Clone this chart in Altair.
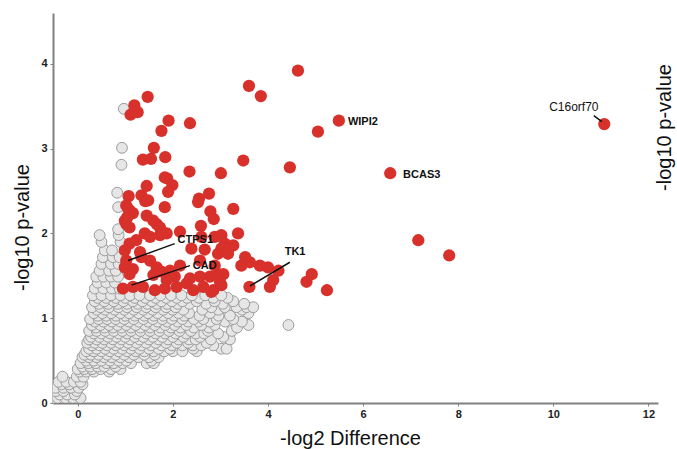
import altair as alt
import pandas as pd

# ---- significant (red) proteins: -log2 difference, -log10 p-value ----
red_x = [4.63, 3.60, 3.85, 1.47, 5.49, 5.05, 11.07, 6.57, 7.16, 7.81, 5.24, 4.92, 4.81, 4.46,
         3.48, 2.36, 1.91, 1.19, 1.26, 1.11, 1.76, 1.60, 1.54, 1.37, 1.84, 2.35, 3.01, 1.83,
         1.88, 1.45, 1.99, 1.90, 1.07, 1.34, 2.76, 2.55, 2.79, 2.86, 3.27, 1.42, 1.83, 1.02,
         1.09, 1.16, 1.45, 1.59, 0.99, 2.59, 1.04, 1.02, 1.09, 1.66, 1.73, 1.41, 1.52, 1.73,
         1.87, 2.15, 2.60, 2.88, 3.02, 3.37, 3.27, 3.09, 3.02, 2.95, 2.39, 2.67, 1.09, 1.23,
         0.99, 1.31, 1.34, 1.02, 0.99, 1.16, 1.09, 1.52, 1.66, 1.76, 1.59, 1.94, 2.15, 2.04,
         1.87, 0.95, 1.16, 1.37, 1.62, 1.83, 2.08, 2.29, 2.43, 2.64, 2.85, 3.02, 2.36, 2.57,
         2.78, 2.95, 2.88, 2.57, 3.52, 3.62, 3.83, 4.00, 4.22, 4.11, 4.04, 3.61, 3.44, 3.20,
         3.16, 2.81, 3.06, 2.99, 1.06, 1.48, 2.53]
red_y = [3.92, 3.74, 3.62, 3.61, 3.33, 3.20, 3.29, 2.71, 1.92, 1.74, 1.33, 1.52, 1.43, 2.78,
         2.86, 3.30, 3.33, 3.51, 3.43, 3.40, 3.21, 3.01, 2.88, 2.87, 2.90, 2.73, 2.71, 2.66,
         2.65, 2.56, 2.57, 2.49, 2.44, 2.45, 2.47, 2.41, 2.26, 2.17, 2.29, 2.38, 2.31, 2.33,
         2.27, 2.24, 2.21, 2.15, 2.15, 2.09, 2.19, 2.11, 2.07, 2.11, 2.07, 2.00, 1.96, 1.98,
         2.00, 2.02, 1.96, 1.96, 1.98, 2.00, 1.86, 1.88, 1.82, 1.76, 1.82, 1.81, 1.88, 1.92,
         1.80, 1.78, 1.72, 1.68, 1.60, 1.58, 1.52, 1.68, 1.60, 1.55, 1.51, 1.56, 1.62, 1.49,
         1.45, 1.35, 1.37, 1.37, 1.33, 1.35, 1.37, 1.41, 1.33, 1.37, 1.33, 1.39, 1.47, 1.49,
         1.49, 1.52, 1.62, 1.68, 1.72, 1.66, 1.62, 1.60, 1.56, 1.45, 1.37, 1.37, 1.62, 1.84,
         1.76, 1.31, 1.52, 1.43, 2.29, 2.39, 2.37]

# ---- non-significant (grey) proteins, read row by row: (-log10 p, [-log2 diff ...]) ----
gray_rows = [
    (0.02, [-0.46, -0.30, -0.14, 0.00]),
    (0.06, [-0.42, -0.26, -0.10, 0.06]),
    (0.10, [-0.38, -0.22, -0.06]),
    (0.14, [-0.46, -0.30, -0.02]),
    (0.18, [-0.47, -0.30, -0.14, 0.02]),
    (0.22, [-0.34, -0.18, 0.10]),
    (0.25, [-0.40, -0.24, -0.08, 0.06]),
    (0.31, [-0.32, -0.02, 0.12]),
    (0.37, [0.04, 0.18, 0.34, 0.66]),
    (0.40, [0.00, 0.14, 0.30, 0.48, 0.70, 0.90]),
    (0.43, [0.10, 0.26, 0.42, 0.56, 0.80]),
    (0.47, [0.06, 0.22, 0.38, 0.60, 0.76, 0.94, 1.12, 1.45, 1.60]),
    (0.50, [0.18, 0.34, 0.50, 0.68, 0.86, 1.02, 1.55]),
    (0.54, [0.10, 0.24, 0.40, 0.56, 0.72, 0.90, 1.08, 1.28, 1.50, 1.70]),
    (0.57, [0.14, 0.28, 0.44, 0.62, 0.80, 0.98, 1.18, 1.40, 1.62]),
    (0.61, [0.18, 0.34, 0.50, 0.68, 0.86, 1.04, 1.22, 1.40, 1.60, 1.82, 2.00, 2.20, 2.50]),
    (0.64, [0.24, 0.40, 0.58, 0.76, 0.94, 1.12, 1.30, 1.50, 1.70, 1.94, 2.43, 3.02, 3.13]),
    (0.68, [0.30, 0.46, 0.62, 0.80, 0.98, 1.16, 1.34, 1.54, 1.76, 1.98, 2.20, 2.42, 2.60, 2.85]),
    (0.71, [0.20, 0.36, 0.52, 0.70, 0.88, 1.06, 1.24, 1.44, 1.64, 1.86, 2.08, 2.32, 2.71]),
    (0.75, [0.24, 0.40, 0.56, 0.74, 0.92, 1.10, 1.30, 1.50, 1.70, 1.90, 2.12, 2.34, 2.48, 2.80, 3.20]),
    (0.78, [0.28, 0.46, 0.64, 0.82, 1.00, 1.20, 1.38, 1.58, 1.78, 2.00, 2.22, 2.57, 3.06]),
    (0.82, [0.34, 0.50, 0.68, 0.86, 1.04, 1.24, 1.44, 1.64, 1.84, 2.06, 2.28, 2.48, 2.66, 2.95]),
    (0.85, [0.24, 0.40, 0.58, 0.76, 0.94, 1.12, 1.32, 1.52, 1.72, 1.92, 2.14, 2.38, 2.74, 3.24]),
    (0.89, [0.38, 0.56, 0.74, 0.92, 1.12, 1.32, 1.52, 1.74, 1.96, 2.16, 2.44, 2.76, 3.35]),
    (0.92, [0.30, 0.48, 0.66, 0.84, 1.02, 1.22, 1.42, 1.62, 1.84, 2.04, 2.28, 2.60, 2.88, 3.59, 4.43]),
    (0.96, [0.36, 0.54, 0.72, 0.90, 1.08, 1.28, 1.48, 1.68, 1.88, 2.10, 2.32, 2.54, 2.78, 3.10, 3.45]),
    (0.99, [0.26, 0.44, 0.62, 0.80, 0.98, 1.18, 1.38, 1.58, 1.78, 1.98, 2.20, 2.44, 2.64, 2.92, 3.27]),
    (1.03, [0.42, 0.60, 0.80, 1.00, 1.20, 1.40, 1.60, 1.80, 2.02, 2.24, 2.56, 2.96, 3.20]),
    (1.06, [0.34, 0.52, 0.70, 0.90, 1.08, 1.28, 1.48, 1.68, 1.90, 2.12, 2.34, 2.78, 3.59]),
    (1.10, [0.40, 0.58, 0.78, 0.98, 1.18, 1.38, 1.58, 1.80, 2.00, 2.22, 2.62, 2.96, 3.45]),
    (1.13, [0.30, 0.48, 0.66, 0.86, 1.04, 1.24, 1.44, 1.64, 1.86, 2.06, 2.81, 3.09, 3.34, 3.55, 3.69]),
    (1.17, [0.44, 0.64, 0.84, 1.04, 1.26, 1.46, 1.66, 1.88, 2.10, 2.35, 2.70, 3.05, 3.50]),
    (1.20, [0.36, 0.56, 0.76, 0.96, 1.16, 1.36, 1.56, 1.76, 1.98, 2.20, 2.50, 2.88, 3.27]),
    (1.24, [0.42, 0.60, 0.80, 1.00, 1.20, 1.42, 1.64, 1.86, 2.08, 2.30, 2.55, 2.85, 3.15]),
    (1.27, [0.32, 0.50, 0.70, 0.90, 1.10, 1.30, 1.52, 1.74, 1.96, 2.18, 2.40, 2.68, 3.02]),
    (1.35, [0.36, 0.54, 0.72, 0.88]),
    (1.42, [0.42, 0.60, 0.78]),
    (1.49, [0.39, 0.54, 0.70, 0.85]),
    (1.56, [0.46, 0.66, 0.80]),
    (1.64, [0.50, 0.70, 0.86]),
    (1.72, [0.53, 0.74, 0.88]),
    (1.80, [0.57, 0.72]),
    (1.90, [0.50, 0.90]),
    (1.98, [0.46, 0.86]),
    (2.05, [0.85]),
    (2.31, [0.85]),
    (2.48, [0.83]),
    (2.81, [0.92]),
    (3.01, [0.93]),
    (3.47, [0.97]),
]

# ---- gene labels ----
lab_left_text = ["CTPS1", "CAD", "WIPI2", "BCAS3"]
lab_left_x = [2.10, 2.42, 5.68, 6.84]
lab_left_y = [1.92, 1.62, 3.32, 2.69]
lab_center_text = ["TK1"]
lab_center_x = [4.57]
lab_center_y = [1.78]
lab_right_text = ["C16orf70"]
lab_right_x = [10.95]
lab_right_y = [3.49]

# ---- leader lines ----
lead_x = [1.06, 1.13, 3.62, 10.85]
lead_y = [1.68, 1.39, 1.38, 3.39]
lead_x2 = [2.04, 2.36, 4.46, 11.02]
lead_y2 = [1.88, 1.62, 1.66, 3.32]

gx, gy = [], []
for yv, xs in gray_rows:
    for xv in xs:
        gx.append(xv)
        gy.append(yv)

gray_df = pd.DataFrame({"x": gx, "y": gy})
red_df = pd.DataFrame({"x": red_x, "y": red_y})
lead_df = pd.DataFrame({"x": lead_x, "y": lead_y, "x2": lead_x2, "y2": lead_y2})
ll_df = pd.DataFrame({"x": lab_left_x, "y": lab_left_y, "t": lab_left_text})
lc_df = pd.DataFrame({"x": lab_center_x, "y": lab_center_y, "t": lab_center_text})
lr_df = pd.DataFrame({"x": lab_right_x, "y": lab_right_y, "t": lab_right_text})

FONT = "Liberation Sans"
xscale = alt.Scale(domain=[-0.52, 12.2], nice=False, zero=False)
yscale = alt.Scale(domain=[0, 4.6], nice=False, zero=False)

xaxis = alt.Axis(
    values=[0, 2, 4, 6, 8, 10, 12], format="d", grid=False,
    domainColor="#808080", domainWidth=2, tickColor="#808080", tickSize=3, tickWidth=1,
    labelFont=FONT, labelFontWeight="bold", labelFontSize=11, labelColor="#222222",
    labelPadding=2, title="-log2 Difference", titleFont=FONT, titleFontSize=20,
    titleFontWeight="normal", titleColor="#111111", titleX=297, titleY=35,
    titleAlign="center", titleBaseline="middle",
)
yaxis_left = alt.Axis(
    values=[0, 1, 2, 3, 4], format="d", grid=False,
    domainColor="#808080", domainWidth=2, tickColor="#808080", tickSize=3, tickWidth=1,
    labelFont=FONT, labelFontWeight="bold", labelFontSize=11, labelColor="#222222",
    labelPadding=3, title="-log10 p-value", titleFont=FONT, titleFontSize=20,
    titleFontWeight="normal", titleColor="#111111", titleX=-31, titleY=214,
    titleAngle=270, titleAlign="center", titleBaseline="middle",
)
yaxis_right = alt.Axis(
    orient="right", labels=False, ticks=False, domain=False, grid=False,
    title="-log10 p-value", titleFont=FONT, titleFontSize=20,
    titleFontWeight="normal", titleColor="#111111", titleX=6, titleY=114,
    titleAngle=270, titleAlign="center", titleBaseline="middle",
)

gray = alt.Chart(gray_df).mark_circle(
    size=118, fill="#e6e6e6", stroke="#9c9c9c", strokeWidth=1, opacity=1, clip=True
).encode(
    x=alt.X("x:Q", scale=xscale, axis=xaxis),
    y=alt.Y("y:Q", scale=yscale, axis=yaxis_left),
)

red = alt.Chart(red_df).mark_circle(
    size=150, color="#d8302a", opacity=1
).encode(
    x=alt.X("x:Q", scale=xscale, axis=xaxis),
    y=alt.Y("y:Q", scale=yscale, axis=yaxis_right),
)

leads = alt.Chart(lead_df).mark_rule(color="#111111", strokeWidth=1.5).encode(
    x=alt.X("x:Q", scale=xscale, axis=xaxis),
    y=alt.Y("y:Q", scale=yscale, axis=None),
    x2="x2:Q",
    y2="y2:Q",
)

txt_left = alt.Chart(ll_df).mark_text(
    align="left", baseline="middle", font=FONT, fontSize=11, fontWeight="bold", color="#111111"
).encode(
    x=alt.X("x:Q", scale=xscale, axis=xaxis),
    y=alt.Y("y:Q", scale=yscale, axis=None),
    text="t:N",
)
txt_center = alt.Chart(lc_df).mark_text(
    align="center", baseline="middle", font=FONT, fontSize=11, fontWeight="bold", color="#111111"
).encode(
    x=alt.X("x:Q", scale=xscale, axis=xaxis),
    y=alt.Y("y:Q", scale=yscale, axis=None),
    text="t:N",
)
txt_right = alt.Chart(lr_df).mark_text(
    align="right", baseline="middle", font=FONT, fontSize=12, fontWeight="normal", color="#111111"
).encode(
    x=alt.X("x:Q", scale=xscale, axis=xaxis),
    y=alt.Y("y:Q", scale=yscale, axis=None),
    text="t:N",
)

chart = alt.layer(gray, red, leads, txt_left, txt_center, txt_right).resolve_axis(
    y="independent"
).properties(
    width=605,
    height=390,
    padding={"left": 53, "top": 13, "right": 19, "bottom": 46},
    autosize=alt.AutoSizeParams(type="none"),
    background="white",
).configure_view(stroke=None)

chart.save("out.html", embed_options={"renderer": "svg", "actions": False})
